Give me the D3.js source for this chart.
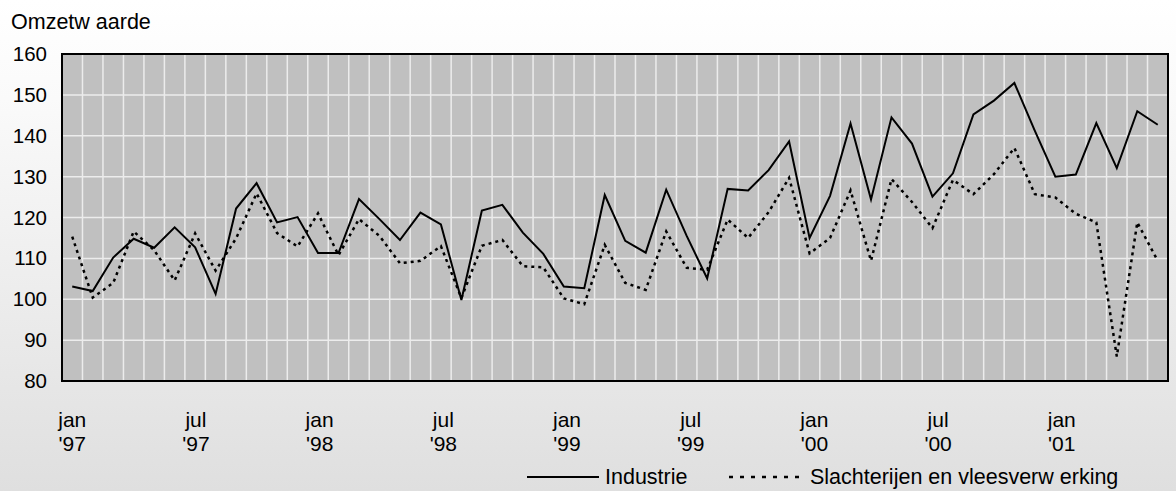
<!DOCTYPE html>
<html>
<head>
<meta charset="utf-8">
<script src="https://cdn.jsdelivr.net/npm/d3@7"></script>
<style>
  body { margin: 0; }
  svg { display: block; font-family: "Liberation Sans", Arial, sans-serif; }
</style>
</head>
<body>
<svg class="chart"></svg>
<script>
// monthly index, jan '97 - jun '01
var industrie = [103.1, 102.0, 110.2, 114.8, 112.6, 117.6, 112.7, 101.3, 122.2, 128.4, 118.8, 120.1,
  111.3, 111.3, 124.5, 119.6, 114.5, 121.2, 118.3, 99.8, 121.7, 123.1, 116.3, 111.1,
  103.1, 102.7, 125.5, 114.3, 111.4, 126.8, 115.5, 105.1, 127.0, 126.6, 131.6, 138.6,
  115.0, 125.3, 143.0, 124.4, 144.5, 138.1, 125.1, 130.8, 145.2, 148.6, 152.9, 141.2,
  130.0, 130.5, 143.1, 132.1, 146.0, 142.7];
var slachterijen = [115.3, 100.4, 104.0, 116.6, 112.0, 104.6, 116.1, 107.0, 114.9, 125.9, 116.2, 112.9,
  121.0, 110.8, 119.6, 115.5, 108.8, 109.4, 113.0, 100.3, 113.1, 114.5, 108.1, 107.8,
  100.2, 98.8, 113.3, 104.0, 102.3, 116.6, 107.7, 107.2, 119.5, 115.0, 121.3, 129.7,
  111.2, 115.0, 126.6, 109.4, 129.4, 123.8, 117.4, 129.2, 125.7, 130.6, 137.0, 125.7,
  124.9, 120.9, 118.8, 86.0, 118.8, 109.4];
var months = d3.timeMonth.range(new Date(1997, 0, 1), new Date(2001, 6, 1));
var yTicks = [80, 90, 100, 110, 120, 130, 140, 150, 160];
var monthNames = ["jan", "jul"];
var seriesNames = ["Industrie", "Slachterijen en vleesverw erking"];

var W = 1176, H = 491;
var margin = {top: 54, right: 8, bottom: 110, left: 62},
    width = W - margin.left - margin.right,
    height = H - margin.top - margin.bottom;

var svg = d3.select(".chart").attr("width", W).attr("height", H);

var bg = svg.append("defs").append("linearGradient")
    .attr("id", "bg").attr("x1", 0).attr("y1", 0).attr("x2", 0).attr("y2", 1);
bg.append("stop").attr("offset", "0").attr("stop-color", "#ffffff");
bg.append("stop").attr("offset", "0.2").attr("stop-color", "#fafafa");
bg.append("stop").attr("offset", "1").attr("stop-color", "#dfdfdf");
svg.append("rect").attr("width", W).attr("height", H).attr("fill", "url(#bg)");

var x = d3.scaleBand().domain(months).range([0, width]).padding(0);
var y = d3.scaleLinear().domain([80, 160]).range([height, 0]);

var chart = svg.append("g")
    .attr("transform", "translate(" + margin.left + "," + margin.top + ")");

chart.append("rect")
    .attr("width", width).attr("height", height)
    .attr("fill", "#c0c0c0");

// grid
chart.append("g").selectAll("line")
    .data(yTicks.slice(1, -1))
  .enter().append("line")
    .attr("x1", 0).attr("x2", width)
    .attr("y1", d => y(d)).attr("y2", d => y(d))
    .attr("stroke", "#ececec").attr("stroke-width", 1.5);
chart.append("g").selectAll("line")
    .data(months.slice(1))
  .enter().append("line")
    .attr("x1", d => x(d)).attr("x2", d => x(d))
    .attr("y1", 0).attr("y2", height)
    .attr("stroke", "#ececec").attr("stroke-width", 1.5);

// axes
var yAxis = d3.axisLeft(y).tickValues(yTicks).tickSize(0).tickPadding(15);
chart.append("g").call(yAxis)
    .call(g => g.select(".domain").remove())
    .selectAll("text")
    .attr("font-size", 20.5).attr("fill", "#000").attr("font-family", null);

var xAxis = d3.axisBottom(x)
    .tickValues(months.filter(d => d.getMonth() % 6 == 0))
    .tickSize(0).tickFormat("");
var xg = chart.append("g").attr("transform", "translate(0," + height + ")").call(xAxis);
xg.select(".domain").remove();
xg.selectAll(".tick").each(function(d, i) {
  var t = d3.select(this);
  t.append("text").attr("x", i * 0.8).attr("y", 46).attr("fill", "#000").attr("font-size", 21)
    .attr("text-anchor", "middle")
    .text(monthNames[d.getMonth() / 6]);
  t.append("text").attr("x", i * 0.8).attr("y", 70).attr("fill", "#000").attr("font-size", 21)
    .attr("text-anchor", "middle")
    .text("'" + String(d.getFullYear()).slice(2));
});

// lines
var line = d3.line()
    .x((d, i) => x(months[i]) + x.bandwidth() / 2)
    .y(d => y(d));

chart.append("path").datum(slachterijen)
    .attr("d", line).attr("fill", "none")
    .attr("stroke", "#000").attr("stroke-width", 2.5)
    .attr("stroke-dasharray", "3,4");
chart.append("path").datum(industrie)
    .attr("d", line).attr("fill", "none")
    .attr("stroke", "#000").attr("stroke-width", 2);

// frame
chart.append("rect")
    .attr("width", width).attr("height", height)
    .attr("fill", "none").attr("stroke", "#000").attr("stroke-width", 2);

// title
svg.append("text").attr("x", 11).attr("y", 29)
    .attr("font-size", 21.5).text("Omzetw aarde");

// legend
var legend = svg.append("g");
var lx = [527, 729], tx = [605, 810], ly = 477;
seriesNames.forEach(function(name, i) {
  legend.append("line")
    .attr("x1", lx[i]).attr("x2", lx[i] + 72)
    .attr("y1", ly).attr("y2", ly)
    .attr("stroke", "#000").attr("stroke-width", i == 1 ? 2.5 : 2)
    .attr("stroke-dasharray", i == 1 ? "4,7" : null);
  legend.append("text").attr("x", tx[i]).attr("y", ly + 7)
    .attr("font-size", 21.5).text(name);
});
</script>
</body>
</html>
